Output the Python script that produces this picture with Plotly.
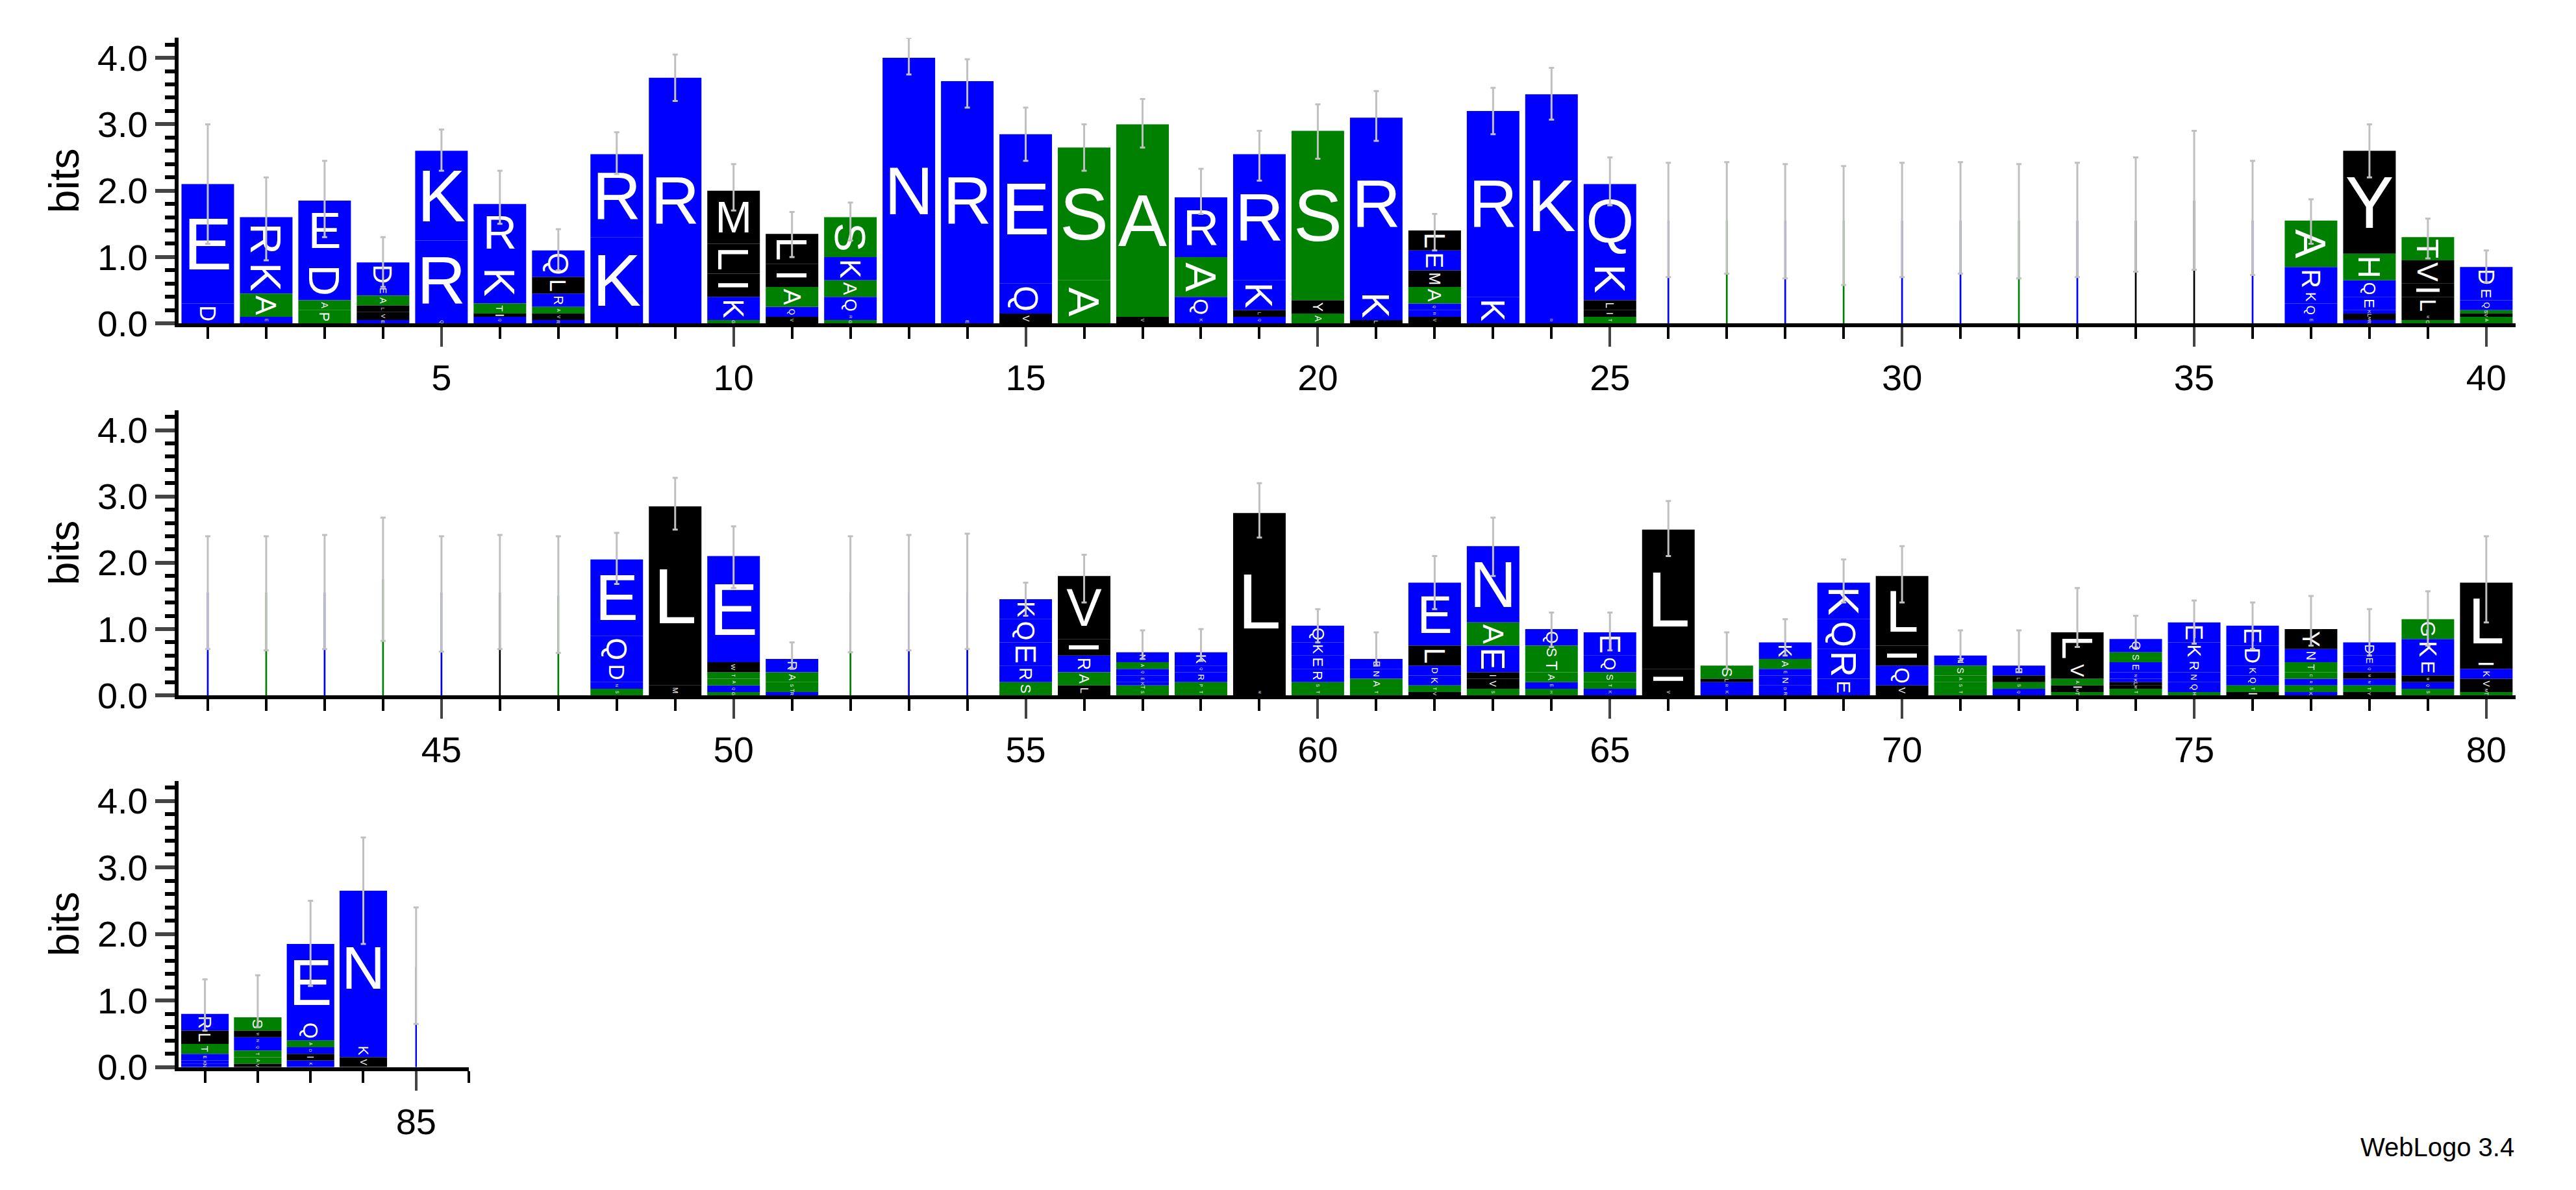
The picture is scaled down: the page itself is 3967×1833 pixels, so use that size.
import plotly.graph_objects as go

# stacks bottom -> top, letter:bits
stacks = {
    1: "D:.3 E:1.8", 2: "E:.1 A:.35 K:.5 R:.65", 3: "P:.2 A:.15 D:.6 E:.9",
    4: "E:.05 V:.12 L:.1 A:.15 E:.15 D:.35", 5: "Q:.05 R:1.2 K:1.35",
    6: "Q:.1 I:.05 T:.15 K:.65 R:.85", 7: "R:.05 V:.1 A:.1 R:.2 L:.25 Q:.4",
    8: "K:1.3 R:1.25", 9: "R:3.7", 10: "G:.05 K:.35 I:.35 L:.45 M:.8",
    11: "V:.1 Q:.15 A:.3 I:.35 L:.45", 12: "G:.05 R:.1 Q:.25 A:.25 K:.35 S:.6",
    13: "N:4.0", 14: "E:.05 R:3.6", 15: "V:.15 Q:.45 E:2.25", 16: "A:.65 S:2.0",
    17: "V:.1 A:2.9", 18: "K:.1 Q:.3 A:.6 R:.9", 19: "Q:.1 L:.1 K:.45 R:1.9",
    20: "A:.15 Y:.2 S:2.55", 21: "L:.05 K:.45 R:2.6",
    22: "V:.1 R:.1 Q:.1 A:.25 M:.25 E:.3 L:.3", 23: "K:.4 R:2.8", 24: "R:.1 K:3.35",
    25: "T:.1 I:.1 L:.15 K:.65 Q:1.1",
    26: "R:1.55", 27: "S:1.55", 28: "E:1.55", 29: "A:1.55", 30: "K:1.55",
    31: "R:1.55", 32: "G:1.55", 33: "E:1.55", 34: "L:1.55", 35: "L:1.85", 36: "K:1.55",
    37: "E:.1 Q:.2 K:.2 R:.35 A:.7", 38: "R:.05 M:.05 L:.05 K:.05 E:.2 Q:.25 H:.4 Y:1.55",
    39: "C:.05 M:.1 L:.25 I:.2 V:.35 T:.35", 40: "A:.1 V:.05 S:.05 Q:.15 E:.2 D:.3",
    41: "R:1.55", 42: "S:1.55", 43: "E:1.55", 44: "A:1.75", 45: "K:1.55", 46: "L:1.55",
    47: "G:1.5",
    48: "S:.1 N:.1 D:.3 Q:.4 E:1.15", 49: "M:.15 L:2.7",
    50: "G:.05 Q:.1 A:.1 T:.1 W:.15 E:1.6", 51: "R:.05 T:.05 S:.1 A:.15 R:.2",
    52: "S:1.55", 53: "R:1.55", 54: "E:1.55",
    55: "S:.2 R:.25 E:.35 Q:.35 K:.3", 56: "L:.15 A:.2 R:.25 I:.25 V:.95",
    57: "S:.1 T:.05 K:.05 E:.1 Q:.1 A:.1 N:.15", 58: "T:.1 P:.1 R:.15 Q:.1 K:.2",
    59: "M:.1 L:2.65", 60: "T:.1 S:.1 R:.2 E:.2 K:.2 Q:.25",
    61: "T:.1 A:.15 N:.15 E:.15", 62: "V:.05 T:.1 K:.15 D:.15 L:.3 E:.95",
    63: "S:.1 V:.15 I:.1 E:.4 A:.35 N:1.15", 64: "H:.1 E:.1 A:.15 T:.2 S:.2 Q:.25",
    65: "K:.1 T:.1 S:.15 Q:.25 E:.35", 66: "V:.1 I:.3 L:2.1",
    67: "K:.1 R:.1 L:.05 S:.2", 68: "R:.05 D:.1 N:.15 E:.1 A:.15 K:.25",
    69: "E:.25 R:.45 Q:.45 K:.55", 70: "V:.15 Q:.3 I:.3 L:1.05",
    71: "T:.1 S:.1 A:.1 S:.15 N:.15", 72: "Q:.1 S:.1 L:.1 E:.15",
    73: "T:.05 M:.05 I:.05 A:.1 V:.25 L:.45",
    74: "T:.1 M:.05 L:.05 K:.05 N:.1 E:.15 S:.15 Q:.2",
    75: "H:.05 Q:.15 N:.15 R:.2 K:.25 E:.3", 76: "I:.05 T:.1 Q:.15 K:.15 D:.3 E:.3",
    77: "K:.05 S:.1 R:.1 C:.1 T:.15 N:.2 Y:.3", 78: "Y:.05 T:.1 N:.1 M:.1 Q:.1 E:.15 D:.2",
    79: "S:.1 Q:.1 M:.1 E:.25 K:.3 G:.3", 80: "T:.05 M:.05 V:.15 K:.15 I:.15 L:1.15",
    81: "N:.05 K:.05 E:.1 T:.15 L:.2 R:.25", 82: "V:.05 A:.1 T:.1 Q:.1 N:.1 M:.1 S:.2",
    83: "K:.1 I:.1 D:.1 A:.1 Q:.3 E:1.15", 84: "V:.15 K:.2 N:2.3", 85: "R:1.5",
}
thin_positions = [26, 27, 28, 29, 30, 31, 32, 33, 34, 35, 36, 41, 42, 43, 44, 45, 46, 47,
                  52, 53, 54, 85]

err_top = [3.0, 2.2, 2.45, 1.3, 2.92, 2.3, 1.42, 2.88, 4.05, 2.4, 1.68, 1.82, 4.3, 3.98,
           3.25, 3.0, 3.38, 2.33, 2.9, 3.3, 3.5, 1.65, 3.55, 3.85, 2.5,
           2.42, 2.43, 2.4, 2.37, 2.42, 2.43, 2.4, 2.42, 2.5, 2.9, 2.45, 1.87, 3.0, 1.58, 1.1,
           2.4, 2.4, 2.42, 2.68, 2.4, 2.42, 2.4, 2.45, 3.28, 2.55, 0.8, 2.4, 2.42, 2.44,
           1.7, 2.12, 0.98, 1.0, 3.2, 1.3, 0.95, 2.1, 2.68, 1.25, 1.25, 2.93, 0.95, 1.15,
           2.05, 2.25, 0.98, 0.98, 1.62, 1.2, 1.43, 1.4, 1.5, 1.3, 1.57, 2.4,
           1.32, 1.38, 2.5, 3.45, 2.4]
err_bottom = [1.2, 0.95, 1.3, 0.55, 2.3, 1.5, 0.8, 2.25, 3.35, 1.7, 1.0, 1.25, 3.75, 3.25,
              2.45, 2.3, 2.65, 1.65, 2.15, 2.48, 2.75, 1.1, 2.85, 3.07, 1.78,
              0.7, 0.75, 0.68, 0.58, 0.7, 0.75, 0.68, 0.7, 0.78, 0.81, 0.73, 1.2, 2.2, 0.98, 0.62,
              0.7, 0.68, 0.7, 0.82, 0.66, 0.7, 0.64, 1.68, 2.5, 1.62, 0.4, 0.65, 0.68, 0.7,
              1.2, 1.4, 0.55, 0.52, 2.38, 0.8, 0.45, 1.3, 1.8, 0.73, 0.68, 2.1, 0.4, 0.6,
              1.4, 1.4, 0.52, 0.35, 0.73, 0.72, 0.78, 0.7, 0.75, 0.6, 0.75, 1.1,
              0.55, 0.6, 1.22, 1.85, 0.65]

colors = {}
for a in "RKDENQ":
    colors[a] = "#0000ff"
for a in "STAGHPC":
    colors[a] = "#008000"
for a in "LIVMYWF":
    colors[a] = "#000000"

rows = [(1, 40), (41, 80), (81, 86)]

fig = go.Figure()
for r, (lo, hi) in enumerate(rows, start=1):
    traces = {}
    for pos in range(lo, hi + 1):
        if pos not in stacks:
            continue
        base = 0.0
        for item in stacks[pos].split():
            letter, h = item.split(":")
            h = float(h)
            t = traces.setdefault(colors[letter], dict(x=[], y=[], base=[], text=[], w=[]))
            t["x"].append(pos)
            t["y"].append(h)
            t["base"].append(base)
            t["text"].append("" if pos in thin_positions else letter)
            t["w"].append(0.03 if pos in thin_positions else 0.9)
            base += h
    suffix = "" if r == 1 else str(r)
    for col, t in traces.items():
        fig.add_trace(go.Bar(
            x=t["x"], y=t["y"], base=t["base"], text=t["text"], width=t["w"],
            marker=dict(color=col, line=dict(width=0)),
            textposition="inside", insidetextanchor="middle", constraintext="both",
            textfont=dict(color="white", family="Liberation Sans", size=120),
            xaxis="x" + suffix, yaxis="y" + suffix, showlegend=False, hoverinfo="skip",
        ))
    ps = [p for p in range(lo, hi + 1) if p in stacks]
    mid = [(err_top[p - 1] + err_bottom[p - 1]) / 2 for p in ps]
    half = [(err_top[p - 1] - err_bottom[p - 1]) / 2 for p in ps]
    fig.add_trace(go.Scatter(
        x=ps, y=mid, mode="markers", marker=dict(opacity=0),
        error_y=dict(type="data", array=half, color="#c0c0c0", thickness=3, width=4),
        xaxis="x" + suffix, yaxis="y" + suffix, showlegend=False, hoverinfo="skip",
    ))

font = "Liberation Sans Narrow, Liberation Sans, Arial"
xdom = [[0.0673, 0.9745], [0.0673, 0.9745], [0.0673, 0.180]]
ydom = [[0.7278, 0.972], [0.4097, 0.6536], [0.0917, 0.3366]]
xr = [[0.5, 40.5], [40.5, 80.5], [80.5, 86.0]]
layout = dict(
    width=3967, height=1833, margin=dict(l=0, r=0, t=0, b=0),
    plot_bgcolor="white", paper_bgcolor="white", barmode="overlay",
    font=dict(family=font, color="black"),
)
for i in range(3):
    s = "" if i == 0 else str(i + 1)
    layout["xaxis" + s] = dict(
        domain=xdom[i], range=xr[i], anchor="y" + s, tickmode="linear", tick0=0, dtick=5,
        ticks="outside", ticklen=30, tickwidth=4, showline=True, linewidth=6, linecolor="black",
        showgrid=False, zeroline=False, tickfont=dict(size=56, family=font),
        minor=dict(dtick=1, tick0=0, ticks="outside", ticklen=18, tickwidth=4, tickcolor="black"),
    )
    layout["yaxis" + s] = dict(
        domain=ydom[i], range=[0, 4.3], anchor="x" + s, tickmode="array",
        tickvals=[0, 1, 2, 3, 4], ticktext=["0.0", "1.0", "2.0", "3.0", "4.0"],
        ticks="outside", ticklen=30, tickwidth=6, showline=True, linewidth=6, linecolor="black",
        showgrid=False, zeroline=False, tickfont=dict(size=56, family=font),
        minor=dict(dtick=0.2, ticks="outside", ticklen=15, tickwidth=6, tickcolor="black"),
        title=dict(text="bits", font=dict(size=64, family="Liberation Sans"), standoff=10),
    )
fig.update_layout(**layout)
fig.add_annotation(text="WebLogo 3.4", x=0.9745, y=0.01, xref="paper", yref="paper",
                   xanchor="right", yanchor="bottom", showarrow=False,
                   font=dict(size=40, family="Liberation Sans", color="black"))
fig.write_html("out.html")
